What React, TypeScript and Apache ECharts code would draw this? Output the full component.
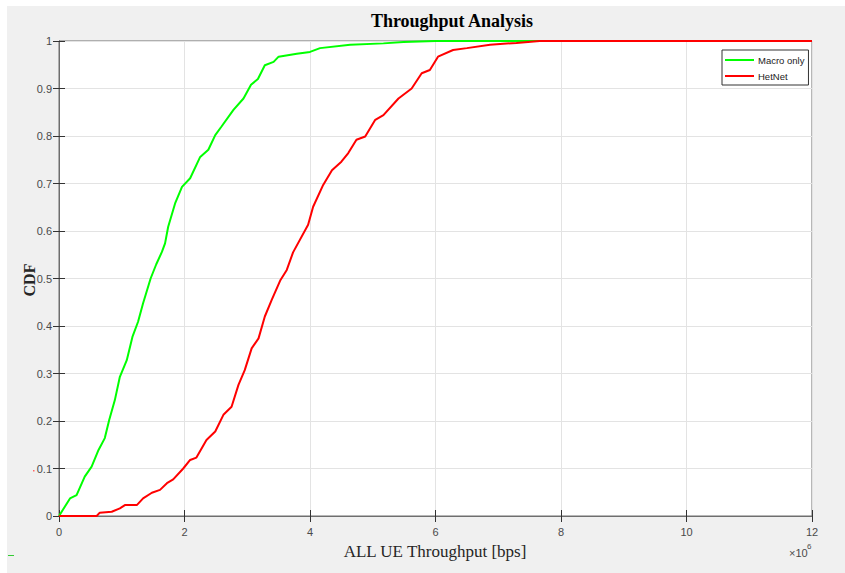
import React, { useEffect, useRef } from "react";
import * as echarts from "echarts";

const xTicks = [0, 2, 4, 6, 8, 10, 12];
const macroX = [0, 0.175, 0.28, 0.41, 0.52, 0.63, 0.73, 0.8, 0.89, 0.97, 1.08, 1.17, 1.26, 1.34, 1.46, 1.55, 1.64, 1.69, 1.74, 1.85, 1.96, 2.09, 2.25, 2.38, 2.49, 2.59, 2.78, 2.94, 3.06, 3.17, 3.28, 3.42, 3.5, 3.79, 4.0, 4.16, 4.64, 5.17, 5.49, 6.0, 7.7];
const macroY = [0, 0.037, 0.044, 0.083, 0.104, 0.139, 0.164, 0.202, 0.244, 0.293, 0.328, 0.377, 0.409, 0.448, 0.5, 0.53, 0.556, 0.574, 0.609, 0.658, 0.693, 0.711, 0.756, 0.771, 0.802, 0.82, 0.855, 0.879, 0.908, 0.92, 0.949, 0.956, 0.967, 0.973, 0.977, 0.985, 0.992, 0.995, 0.998, 1.0, 1.0];
const hetX = [0, 0.6, 0.65, 0.84, 0.97, 1.05, 1.24, 1.34, 1.48, 1.61, 1.72, 1.82, 1.98, 2.09, 2.19, 2.35, 2.49, 2.62, 2.75, 2.86, 2.96, 3.07, 3.18, 3.28, 3.39, 3.53, 3.63, 3.73, 3.97, 4.05, 4.21, 4.35, 4.5, 4.61, 4.74, 4.88, 5.04, 5.17, 5.41, 5.62, 5.78, 5.91, 6.04, 6.28, 6.5, 6.87, 7.29, 7.66, 12];
const hetY = [0, 0, 0.007, 0.009, 0.016, 0.023, 0.023, 0.037, 0.049, 0.055, 0.069, 0.077, 0.1, 0.118, 0.123, 0.16, 0.178, 0.213, 0.23, 0.276, 0.307, 0.353, 0.374, 0.42, 0.455, 0.497, 0.518, 0.555, 0.613, 0.651, 0.697, 0.728, 0.746, 0.764, 0.792, 0.799, 0.834, 0.844, 0.879, 0.9, 0.932, 0.939, 0.967, 0.981, 0.985, 0.992, 0.996, 1.0, 1.0];

const seriesNames = ["Macro only", "HetNet"];
const titleText = "Throughput Analysis";
const xName = "ALL UE Throughput [bps]";
const yName = "CDF";

export default function App() {
  const ref = useRef<HTMLDivElement>(null);
  useEffect(() => {
    if (!ref.current) return;
    const chart = echarts.init(ref.current, null, { renderer: "svg" });
    const tickFont = { fontFamily: "Liberation Sans, Arial, sans-serif", fontSize: 11, color: "#4a4a4a" };
    const axisLineStyle = { color: "#6e6e6e", width: 1 };
    chart.setOption({
      animation: false,
      backgroundColor: "transparent",
      grid: { left: 59, right: 33, top: 41, bottom: 57, show: true, backgroundColor: "#ffffff", borderColor: "#6e6e6e", borderWidth: 1 },
      legend: {
        left: 722,
        top: 50,
        orient: "vertical",
        icon: "rect",
        itemWidth: 29,
        itemHeight: 2,
        itemGap: 6,
        padding: [5, 4, 4, 3],
        backgroundColor: "#ffffff",
        borderColor: "#333333",
        borderWidth: 1,
        borderRadius: 0,
        textStyle: { fontFamily: "Liberation Sans, Arial, sans-serif", fontSize: 9.5, color: "#222", padding: [0, 0, 0, -1] },
        data: seriesNames,
      },
      xAxis: [
        {
          type: "value",
          min: 0,
          max: 12,
          interval: 2,
          position: "bottom",
          axisLine: { show: true, lineStyle: axisLineStyle },
          axisTick: { show: true, inside: true, length: 6, lineStyle: { color: "#333" } },
          axisLabel: { ...tickFont, margin: 10, formatter: (v: number) => (xTicks.includes(v) ? String(v) : "") },
          splitLine: { show: true, lineStyle: { color: "#e3e3e3", width: 1 } },
        },
        {
          type: "value",
          min: 0,
          max: 12,
          interval: 2,
          position: "top",
          axisLine: { show: true, lineStyle: axisLineStyle },
          axisTick: { show: true, inside: true, length: 6, lineStyle: { color: "#333" } },
          axisLabel: { show: false },
          splitLine: { show: false },
        },
      ],
      yAxis: [
        {
          type: "value",
          min: 0,
          max: 1,
          interval: 0.1,
          position: "left",
          axisLine: { show: true, lineStyle: axisLineStyle },
          axisTick: { show: true, inside: true, length: 6, lineStyle: { color: "#333" } },
          axisLabel: { ...tickFont, margin: 7, formatter: (v: number) => String(Math.round(v * 10) / 10) },
          splitLine: { show: true, lineStyle: { color: "#e3e3e3", width: 1 } },
        },
        {
          type: "value",
          min: 0,
          max: 1,
          interval: 0.1,
          position: "right",
          axisLine: { show: true, lineStyle: axisLineStyle },
          axisTick: { show: true, inside: true, length: 6, lineStyle: { color: "#333" } },
          axisLabel: { show: false },
          splitLine: { show: false },
        },
      ],
      series: [
        {
          name: seriesNames[0],
          type: "line",
          showSymbol: false,
          symbol: "none",
          data: macroX.map((x, i) => [x, macroY[i]]),
          lineStyle: { color: "#00ff00", width: 2 },
          itemStyle: { color: "#00ff00" },
          z: 3,
        },
        {
          name: seriesNames[1],
          type: "line",
          showSymbol: false,
          symbol: "none",
          data: hetX.map((x, i) => [x, hetY[i]]),
          lineStyle: { color: "#ff0000", width: 2 },
          itemStyle: { color: "#ff0000" },
          z: 4,
        },
      ],
      graphic: [
        {
          type: "text",
          x: 452,
          y: 21,
          style: { text: titleText, font: "bold 18px 'Liberation Serif', 'Times New Roman', serif", fill: "#000", textAlign: "center", textVerticalAlign: "middle" },
        },
        {
          type: "text",
          x: 435,
          y: 551,
          style: { text: xName, font: "17px 'Liberation Serif', 'Times New Roman', serif", fill: "#262626", textAlign: "center", textVerticalAlign: "middle" },
        },
        {
          type: "text",
          x: 29,
          y: 280,
          rotation: Math.PI / 2,
          style: { text: yName, font: "bold 16px 'Liberation Serif', 'Times New Roman', serif", fill: "#262626", textAlign: "center", textVerticalAlign: "middle" },
        },
        {
          type: "text",
          x: 789,
          y: 553,
          style: { text: "×10", font: "11px 'Liberation Sans', Arial, sans-serif", fill: "#4a4a4a", textAlign: "left", textVerticalAlign: "middle" },
        },
        {
          type: "text",
          x: 807,
          y: 546,
          style: { text: "6", font: "8px 'Liberation Sans', Arial, sans-serif", fill: "#4a4a4a", textAlign: "left", textVerticalAlign: "middle" },
        },
        { type: "rect", shape: { x: 33, y: 470, width: 1.5, height: 1.5 }, style: { fill: "#ff6666" } },
        { type: "rect", shape: { x: 8, y: 555, width: 6, height: 1 }, style: { fill: "#33cc33" } },
      ],
    });
    return () => chart.dispose();
  }, []);
  return (
    <div style={{ position: "fixed", left: 0, top: 0, width: 845, height: 573, background: "#ffffff" }}>
      <div style={{ position: "absolute", left: 7, top: 6, right: 0, bottom: 0, background: "#f0f0f0" }} />
      <div ref={ref} style={{ position: "absolute", left: 0, top: 0, width: 845, height: 573 }} />
    </div>
  );
}
